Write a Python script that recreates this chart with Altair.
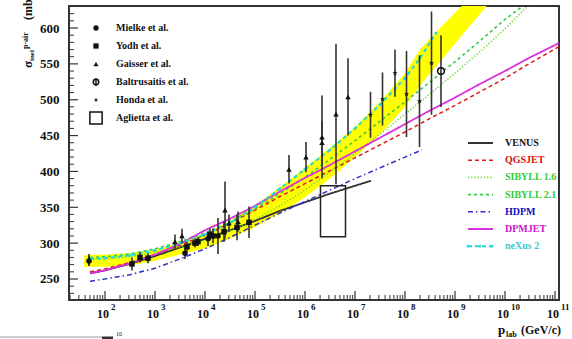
import altair as alt
import pandas as pd

SERIF = "Liberation Serif"

# ---------------- model curves: log10(p_lab / GeV/c) and sigma (mb) ----------------
venus_lg = [1.7, 2.0, 2.5, 3.0, 3.5, 4.0, 4.5, 5.0, 5.5, 6.0, 6.5, 7.0, 7.32]
venus_sig = [258, 262, 271, 282, 294, 306, 318, 331, 345, 357, 369, 380, 387]

qgs_lg = [1.7, 2.0, 2.5, 3.0, 3.5, 4.0, 4.5, 5.0, 5.5, 6.0, 6.5, 7.0, 7.5, 8.0, 8.5, 9.0, 9.5, 10.0, 10.5, 11.08]
qgs_sig = [260, 264, 273, 284, 297, 311, 328, 346, 365, 383, 401, 419, 437, 455, 474, 492, 511, 530, 551, 574]

dpm_lg = [1.7, 2.0, 2.5, 3.0, 3.5, 4.0, 4.5, 5.0, 5.5, 6.0, 6.5, 7.0, 7.5, 8.0, 8.5, 9.0, 9.5, 10.0, 10.5, 11.08]
dpm_sig = [258, 262, 272, 284, 299, 318, 334, 352, 372, 391, 409, 428, 447, 466, 485, 503, 522, 540, 559, 579]

hdpm_lg = [1.7, 2.0, 2.5, 3.0, 3.5, 4.0, 4.5, 5.0, 5.5, 6.0, 6.5, 7.0, 7.5, 8.0, 8.34]
hdpm_sig = [247, 250, 256, 265, 278, 292, 308, 325, 342, 358, 374, 390, 405, 420, 430]

sib16_lg = [1.7, 2.0, 2.5, 3.0, 3.5, 4.0, 4.5, 5.0, 5.5, 6.0, 6.5, 7.0, 7.5, 8.0, 8.5, 9.0, 9.5, 10.0, 10.46]
sib16_sig = [277, 278, 281, 287, 295, 304, 317, 333, 352, 374, 399, 425, 452, 480, 508, 537, 567, 599, 631]

sib21_lg = [1.7, 2.0, 2.5, 3.0, 3.5, 4.0, 4.5, 5.0, 5.5, 6.0, 6.5, 7.0, 7.5, 8.0, 8.5, 9.0, 9.5, 10.0, 10.36]
sib21_sig = [280, 281, 285, 292, 302, 314, 330, 348, 369, 392, 417, 443, 470, 497, 525, 553, 582, 612, 631]

nex_lg = [1.7, 2.0, 2.5, 3.0, 3.5, 4.0, 4.5, 5.0, 5.5, 6.0, 6.5, 7.0, 7.5, 8.0, 8.3, 8.62]
nex_sig = [278, 279, 283, 290, 300, 312, 328, 350, 376, 403, 430, 460, 493, 530, 558, 593]

band_lg = [1.58, 2.0, 2.5, 3.0, 3.5, 4.0, 4.5, 5.0, 5.5, 6.0, 6.5, 7.0, 7.5, 8.0, 8.3, 8.7, 9.14, 9.64]
band_lo = [267, 267, 269, 275, 284, 293, 306, 322, 342, 364, 390, 420, 452, 490, 520, 553, 590, 631]
band_hi = [283, 284, 286, 291, 301, 313, 331, 353, 378, 405, 433, 462, 497, 537, 570, 600, 631, 631]

# ---------------- measurements ----------------
mielke_lg = [1.68, 3.6, 4.06, 4.26]
mielke_sig = [275, 286, 306, 310]
mielke_err = [7, 8, 10, 25]

yodh_lg = [2.54, 2.70, 2.86, 3.64, 3.80, 3.86, 4.10, 4.16, 4.38, 4.64, 4.88]
yodh_sig = [271, 280, 279, 295, 300, 302, 312, 310, 316, 322, 329]
yodh_err = [9, 7, 7, 7, 6, 6, 8, 10, 14, 18, 22]

gaisser_lg = [1.68, 3.4, 3.54, 4.4, 4.48, 4.66, 5.68, 6.02, 6.34, 6.34, 6.62, 6.86]
gaisser_sig = [277, 302, 310, 346, 328, 330, 403, 420, 448, 440, 480, 504]
gaisser_err = [8, 10, 10, 40, 12, 14, 20, 21, 58, 30, 98, 54]

balt_lg = [8.72]
balt_sig = [540]
balt_err = [50]

honda_lg = [7.31, 7.55, 7.80, 8.03, 8.29, 8.53]
honda_sig = [479, 501, 537, 508, 498, 551]
honda_err = [32, 37, 33, 60, 64, 72]

aglietta_lg = [6.31, 6.81]
aglietta_sig = [309, 380]

# ---------------- labels ----------------
y_tick_values = [250, 300, 350, 400, 450, 500, 550, 600]
x_decades = [2, 3, 4, 5, 6, 7, 8, 9, 10, 11]
left_legend = ["Mielke et al.", "Yodh et al.", "Gaisser et al.",
               "Baltrusaitis et al.", "Honda et al.", "Aglietta et al."]
model_names = ["VENUS", "QGSJET", "SIBYLL 1.6", "SIBYLL 2.1", "HDPM", "DPMJET", "neXus 2"]
model_colors = ["#333333", "#e01818", "#66dd33", "#33cc44", "#3030c8", "#dd30dd", "#22d8d8"]
model_text_colors = ["#111111", "#d01010", "#33cc33", "#33cc33", "#1010c0", "#d010d0", "#40c8d0"]
model_dash = [[1, 0], [4, 3], [1.2, 2], [3, 3], [5, 3, 1.5, 3], [1, 0], [4, 3]]
model_width = [1.8, 1.5, 1.6, 1.6, 1.5, 1.8, 2.0]

STAR = ("M0,-1L0.2245,-0.309L0.951,-0.309L0.363,0.118L0.588,0.809L0,0.382"
        "L-0.588,0.809L-0.363,0.118L-0.951,-0.309L-0.2245,-0.309Z")

W, H = 490, 294
xscale = alt.Scale(type="log", domain=[10 ** 1.28, 10 ** 11.08], nice=False)
yscale = alt.Scale(domain=[220.7, 630.7], nice=False, zero=False)
yaxis = alt.Axis(values=y_tick_values, ticks=False, domain=False, grid=False,
                 labelFont=SERIF, labelFontWeight="bold", labelFontSize=13,
                 labelPadding=10, labelColor="#111", title=None)


def X(f="p"):
    return alt.X(f"{f}:Q", scale=xscale, axis=None)


def Y(f="s"):
    return alt.Y(f"{f}:Q", scale=yscale, axis=yaxis)


def curve(lg, sig):
    return pd.DataFrame({"p": [10 ** v for v in lg], "s": sig})


def meas(lg, sig, err):
    return pd.DataFrame({"p": [10 ** v for v in lg], "s": sig,
                         "lo": [a - b for a, b in zip(sig, err)],
                         "hi": [a + b for a, b in zip(sig, err)]})


one = pd.DataFrame({"a": [0]})
layers = []

# yellow band
band_df = pd.DataFrame({"p": [10 ** v for v in band_lg], "lo": band_lo, "hi": band_hi})
layers.append(alt.Chart(band_df).mark_area(color="#ffff00", opacity=1, clip=True)
              .encode(x=X(), y=Y("lo"), y2=alt.Y2("hi:Q")))

# model lines
curves = [(venus_lg, venus_sig), (qgs_lg, qgs_sig), (sib16_lg, sib16_sig),
          (sib21_lg, sib21_sig), (hdpm_lg, hdpm_sig), (dpm_lg, dpm_sig),
          (nex_lg, nex_sig)]
for i, (lg, sig) in enumerate(curves):
    layers.append(alt.Chart(curve(lg, sig)).mark_line(
        color=model_colors[i], strokeDash=model_dash[i],
        strokeWidth=model_width[i], clip=True).encode(x=X(), y=Y()))
layers.append(alt.Chart(curve(nex_lg, nex_sig)).mark_point(
    shape=STAR, filled=True, color=model_colors[6], size=22, opacity=1, clip=True
).encode(x=X(), y=Y()))

# error bars and markers
sets = [
    (meas(mielke_lg, mielke_sig, mielke_err), dict(shape="circle", filled=True, size=30)),
    (meas(yodh_lg, yodh_sig, yodh_err), dict(shape="square", filled=True, size=30)),
    (meas(gaisser_lg, gaisser_sig, gaisser_err), dict(shape="triangle-up", filled=True, size=30)),
    (meas(honda_lg, honda_sig, honda_err), dict(shape=STAR, filled=True, size=30)),
    (meas(balt_lg, balt_sig, balt_err), dict(shape="circle", filled=False, size=45, strokeWidth=1.5)),
]
for df, style in sets:
    layers.append(alt.Chart(df).mark_rule(color="#333", strokeWidth=1.6, clip=True)
                  .encode(x=X(), y=Y("lo"), y2=alt.Y2("hi:Q")))
for df, style in sets:
    layers.append(alt.Chart(df).mark_point(color="#111", opacity=1, clip=True, **style)
                  .encode(x=X(), y=Y()))

# Aglietta box
ag_df = pd.DataFrame({"p1": [10 ** aglietta_lg[0]], "p2": [10 ** aglietta_lg[1]],
                      "s1": [aglietta_sig[0]], "s2": [aglietta_sig[1]]})
layers.append(alt.Chart(ag_df).mark_rect(fillOpacity=0, stroke="#222", strokeWidth=1.5)
              .encode(x=X("p1"), x2=alt.X2("p2:Q"), y=Y("s1"), y2=alt.Y2("s2:Q")))

# axis ticks (inside)
xt_major = pd.DataFrame({"p": [10 ** d for d in x_decades]})
xt_minor = pd.DataFrame({"p": [k * 10 ** d for d in range(1, 11) for k in range(2, 10)
                               if 10 ** 1.28 <= k * 10 ** d <= 10 ** 11.08]})
layers.append(alt.Chart(xt_major).mark_rule(color="#333", strokeWidth=1.2)
              .encode(x=X(), y=alt.value(H), y2=alt.value(H - 9)))
layers.append(alt.Chart(xt_minor).mark_rule(color="#333", strokeWidth=1)
              .encode(x=X(), y=alt.value(H), y2=alt.value(H - 5)))
yt_major = pd.DataFrame({"s": y_tick_values})
yt_minor = pd.DataFrame({"s": [v for v in range(230, 631, 10) if v % 50 != 0]})
layers.append(alt.Chart(yt_major).mark_rule(color="#333", strokeWidth=1.2)
              .encode(y=Y(), x=alt.value(0), x2=alt.value(9)))
layers.append(alt.Chart(yt_minor).mark_rule(color="#333", strokeWidth=1)
              .encode(y=Y(), x=alt.value(0), x2=alt.value(5)))

# x tick labels 10^n
xl = pd.DataFrame({"p": [10 ** d for d in x_decades], "base": ["10"] * len(x_decades),
                   "exp": [str(d) for d in x_decades]})
layers.append(alt.Chart(xl).mark_text(font=SERIF, fontWeight="bold", fontSize=12, color="#111",
                                      align="center", baseline="alphabetic", dx=-2)
              .encode(x=X(), y=alt.value(312), text="base:N"))
layers.append(alt.Chart(xl).mark_text(font=SERIF, fontWeight="bold", fontSize=9, color="#111",
                                      align="left", baseline="alphabetic", dx=6)
              .encode(x=X(), y=alt.value(304), text="exp:N"))


def label(txt, x, y, size=12, color="#111", align="left", angle=0, weight="bold", baseline="middle"):
    m = dict(font=SERIF, fontWeight=weight, fontSize=size, color=color, align=align,
             baseline=baseline, text=txt)
    if angle:
        m["angle"] = angle
    return alt.Chart(one).mark_text(**m).encode(x=alt.value(x), y=alt.value(y))


# axis titles
layers.append(label("p", 429, 328, size=13, baseline="alphabetic"))
layers.append(label("lab", 437, 331, size=8, baseline="alphabetic"))
layers.append(label("(GeV/c)", 452, 328, size=12, baseline="alphabetic"))
layers.append(label("σ", -41, 62, size=13, angle=270))
layers.append(label("inel", -37, 55, size=7, angle=270))
layers.append(label("p-air", -43, 43, size=8, angle=270))
layers.append(label("(mb)", -41, 14, size=12, angle=270))

# left legend (measurements)
ly = [22 + 18 * i for i in range(6)]
leg_styles = [dict(shape="circle", filled=True, size=28),
              dict(shape="square", filled=True, size=28),
              dict(shape="triangle-up", filled=True, size=26),
              dict(shape="circle", filled=False, size=30, strokeWidth=1.5),
              dict(shape=STAR, filled=True, size=22),
              dict(shape="square", filled=False, size=150, strokeWidth=1.5)]
for i, txt in enumerate(left_legend):
    layers.append(alt.Chart(one).mark_point(color="#111", opacity=1, **leg_styles[i])
                  .encode(x=alt.value(27), y=alt.value(ly[i])))
    layers.append(label(txt, 47, ly[i], size=10))
layers.append(alt.Chart(one).mark_rule(color="#111", strokeWidth=1.4)
              .encode(x=alt.value(27), y=alt.value(ly[3] - 4), y2=alt.value(ly[3] + 4)))

# right legend (models)
ry = [137 + 17.2 * i for i in range(7)]
for i, name in enumerate(model_names):
    layers.append(alt.Chart(one).mark_rule(color=model_colors[i], strokeDash=model_dash[i],
                                           strokeWidth=model_width[i])
                  .encode(x=alt.value(399), x2=alt.value(424), y=alt.value(ry[i])))
    layers.append(label(name, 436, ry[i], size=10, color=model_text_colors[i]))
star_leg = pd.DataFrame({"px": [399, 411, 423]})
layers.append(alt.Chart(star_leg).mark_point(shape=STAR, filled=True, color=model_colors[6],
                                              size=22, opacity=1)
              .encode(x=alt.X("px:Q", scale=None, axis=None), y=alt.value(ry[6])))

# fragment of next figure at the bottom-left edge
layers.append(alt.Chart(one).mark_rule(color="#999", strokeWidth=1)
              .encode(x=alt.value(-69), x2=alt.value(33), y=alt.value(331)))
layers.append(alt.Chart(one).mark_rule(color="#333", strokeWidth=3)
              .encode(x=alt.value(33), x2=alt.value(44), y=alt.value(332)))
layers.append(label("10", 47, 328, size=6, weight="normal"))

chart = alt.layer(*layers).properties(
    width=W, height=H,
    padding={"left": 69, "top": 6, "right": 13, "bottom": 39},
    autosize=alt.AutoSizeParams(type="none"),
    background="white",
).configure_view(stroke="#333", strokeWidth=2)

chart.save("out.html", embed_options={"renderer": "svg", "actions": False})
